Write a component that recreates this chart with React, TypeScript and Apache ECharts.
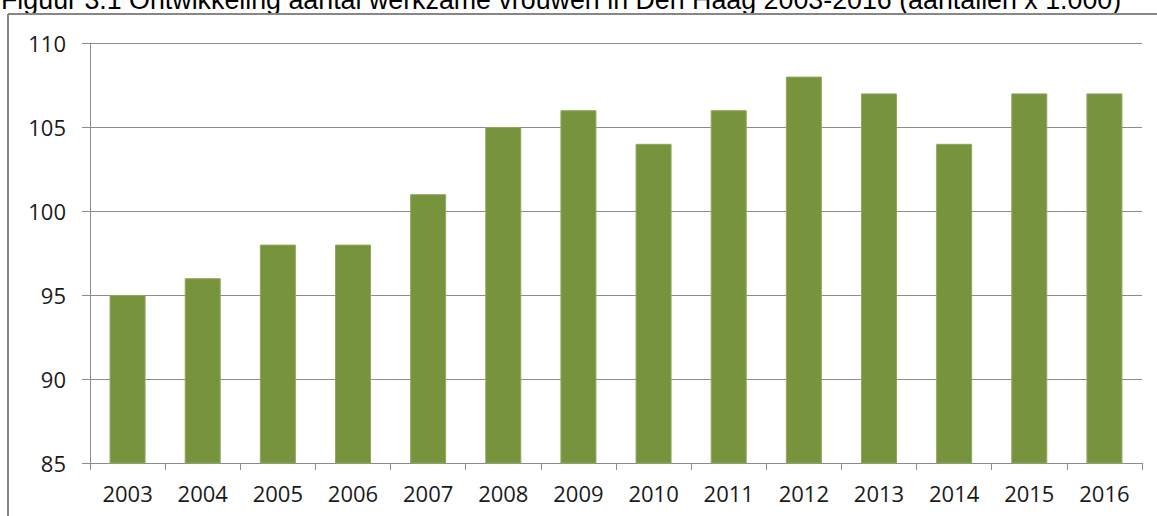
import React, { useEffect, useRef } from "react";
import * as echarts from "echarts";

const titleText = "Figuur 3.1 Ontwikkeling aantal werkzame vrouwen in Den Haag 2003-2016 (aantallen x 1.000)";
const years = ["2003", "2004", "2005", "2006", "2007", "2008", "2009", "2010", "2011", "2012", "2013", "2014", "2015", "2016"];
const values = [95, 96, 98, 98, 101, 105, 106, 104, 106, 108, 107, 104, 107, 107];
const yMin = 85;
const yMax = 110;
const yStep = 5;

export default function App() {
  const ref = useRef<HTMLDivElement>(null);
  useEffect(() => {
    document.body.style.margin = "0";
    if (!ref.current) return;
    const chart = echarts.init(ref.current, null, { renderer: "svg" });
    chart.setOption({
      animation: false,
      backgroundColor: "#ffffff",
      grid: { left: 90, right: 15, top: 43, bottom: 53, containLabel: false },
      graphic: [
        {
          type: "text",
          x: 1,
          y: -14,
          style: { text: titleText, font: "26.8px 'Liberation Sans', Arial, sans-serif", fill: "#000000" },
        },
        { type: "line", shape: { x1: 8, y1: 14, x2: 1157, y2: 14 }, style: { stroke: "#878787", lineWidth: 2 } },
        { type: "line", shape: { x1: 8, y1: 14, x2: 8, y2: 516 }, style: { stroke: "#878787", lineWidth: 2 } },
      ],
      xAxis: {
        type: "category",
        data: years,
        axisLine: { lineStyle: { color: "#8c8c8c", width: 1 } },
        axisTick: { show: true, length: 7, lineStyle: { color: "#8c8c8c" } },
        axisLabel: { color: "#1a1a1a", fontFamily: "'Open Sans', sans-serif", fontSize: 22, margin: 19 },
      },
      yAxis: {
        type: "value",
        min: yMin,
        max: yMax,
        interval: yStep,
        axisLine: { show: true, lineStyle: { color: "#8c8c8c", width: 1 } },
        axisTick: { show: true, length: 8, lineStyle: { color: "#8c8c8c" } },
        splitLine: { lineStyle: { color: "#8c8c8c", width: 1 } },
        axisLabel: { color: "#1a1a1a", fontFamily: "'Open Sans', sans-serif", fontSize: 22, margin: 24 },
      },
      series: [
        {
          type: "bar",
          data: values,
          barWidth: 36,
          itemStyle: { color: "#77933c", borderColor: "#8fa85c", borderWidth: 1 },
        },
      ],
    });
    return () => chart.dispose();
  }, []);
  return <div ref={ref} style={{ position: "fixed", left: 0, top: 0, width: 1157, height: 516 }} />;
}
